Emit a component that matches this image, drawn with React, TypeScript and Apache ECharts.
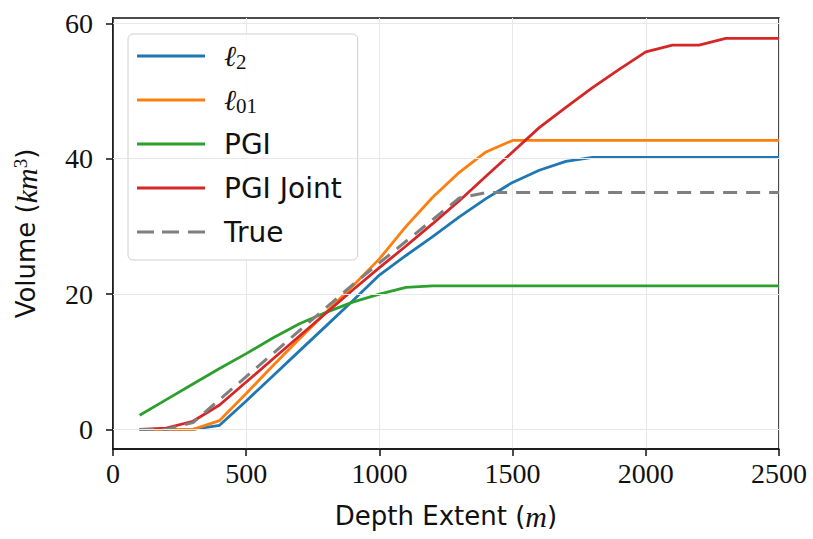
import React, { useEffect, useRef } from "react";
import * as echarts from "echarts";

// Depth extent of the model (m)
const depth = [
  100, 200, 300, 400, 500, 600, 700, 800, 900, 1000, 1100, 1200, 1300,
  1400, 1500, 1600, 1700, 1800, 1900, 2000, 2100, 2200, 2300, 2400, 2500,
];

// Recovered volumes (km^3)
const l2Volume = [
  0, 0, 0, 0.6, 4.2, 7.9, 11.6, 15.3, 19.0, 22.8, 25.7, 28.5, 31.4, 34.1,
  36.5, 38.3, 39.6, 40.2, 40.2, 40.2, 40.2, 40.2, 40.2, 40.2, 40.2,
];
const l01Volume = [
  0, 0, 0, 1.3, 5.3, 9.4, 13.4, 17.3, 21.2, 25.2, 30.0, 34.3, 38.0, 41.0,
  42.7, 42.7, 42.7, 42.7, 42.7, 42.7, 42.7, 42.7, 42.7, 42.7, 42.7,
];
const pgiVolume = [
  2.1, 4.4, 6.7, 9.0, 11.2, 13.5, 15.6, 17.3, 18.8, 20.0, 21.0, 21.2, 21.2,
  21.2, 21.2, 21.2, 21.2, 21.2, 21.2, 21.2, 21.2, 21.2, 21.2, 21.2, 21.2,
];
const pgiJointVolume = [
  0, 0.2, 1.2, 3.6, 7.0, 10.4, 13.8, 17.2, 20.6, 23.9, 27.1, 30.4, 33.8,
  37.4, 41.0, 44.6, 47.6, 50.5, 53.2, 55.8, 56.8, 56.8, 57.8, 57.8, 57.8,
];
const trueVolume = [
  0, 0, 1.0, 4.4, 7.8, 11.2, 14.6, 18.0, 21.4, 24.6, 27.8, 31.0, 34.2,
  35.0, 35.0, 35.0, 35.0, 35.0, 35.0, 35.0, 35.0, 35.0, 35.0, 35.0, 35.0,
];

const yTicks = [0, 20, 40, 60];
const seriesNames = ["ℓ2", "ℓ01", "PGI", "PGI Joint", "True"];

const pair = (ys: number[]) => depth.map((d, i) => [d, ys[i]]);

const SERIF = "'Liberation Serif', 'DejaVu Serif', serif";
const SANS = "'DejaVu Sans', 'Noto Sans', sans-serif";

// legend handles: a plain stroke, and a three-dash stroke
const SOLID_ICON = "path://M0,0H68V3H0Z";
const DASHED_ICON = "path://M0,0H17V3H0Z M25,0H42V3H25Z M51,0H68V3H51Z";

export default function App() {
  const ref = useRef<HTMLDivElement>(null);

  useEffect(() => {
    if (!ref.current) return;
    const chart = echarts.init(ref.current, undefined, { renderer: "svg" });

    const lineSeries = (name: string, ys: number[], color: string, dashed = false) => ({
      name,
      type: "line",
      data: pair(ys),
      showSymbol: false,
      symbol: "none",
      z: 3,
      lineStyle: {
        color,
        width: dashed ? 3 : 2.8,
        type: dashed ? [14, 9] : "solid",
      },
      itemStyle: { color },
    });

    chart.setOption({
      animation: false,
      backgroundColor: "#ffffff",
      grid: {
        left: 113,
        right: 34,
        top: 18,
        bottom: 90,
        show: true,
        borderColor: "#111",
        borderWidth: 1.5,
      },
      legend: {
        data: seriesNames.map((n) => ({
          name: n,
          icon: n === "True" ? DASHED_ICON : SOLID_ICON,
        })),
        orient: "vertical",
        left: 128,
        top: 34,
        padding: [6, 16, 12, 9],
        itemGap: 12,
        itemWidth: 68,
        itemHeight: 14,
        symbolKeepAspect: true,
        backgroundColor: "rgba(255,255,255,0.85)",
        borderColor: "#d0d0d0",
        borderWidth: 1,
        borderRadius: 5,
        formatter: (name: string) => {
          if (name === "ℓ2") return "{ell|ℓ}{sub|2}";
          if (name === "ℓ01") return "{ell|ℓ}{sub|01}";
          return name;
        },
        textStyle: {
          fontFamily: SANS,
          fontSize: 28,
          color: "#111",
          lineHeight: 32,
          padding: [0, 0, 0, 14],
          rich: {
            ell: {
              fontFamily: "'DejaVu Serif', serif",
              fontStyle: "italic",
              fontSize: 29,
              lineHeight: 32,
              color: "#111",
              verticalAlign: "middle",
            },
            sub: {
              fontFamily: SERIF,
              fontSize: 21,
              lineHeight: 20,
              color: "#111",
              verticalAlign: "bottom",
            },
          },
        },
      },
      xAxis: {
        type: "value",
        min: 0,
        max: 2500,
        interval: 500,
        name: "Depth Extent ({m|m})",
        nameLocation: "middle",
        nameGap: 52,
        nameTextStyle: {
          fontFamily: SANS,
          fontSize: 26,
          color: "#111",
          rich: {
            m: {
              fontFamily: SERIF,
              fontStyle: "italic",
              fontSize: 30,
              color: "#111",
            },
          },
        },
        axisLine: { show: true, onZero: false, lineStyle: { color: "#111", width: 1.5 } },
        axisTick: { show: true, length: 7, lineStyle: { color: "#111", width: 1.5 } },
        axisLabel: {
          fontFamily: SERIF,
          fontSize: 28,
          color: "#111",
          margin: 10,
          formatter: (v: number) => String(v),
        },
        splitLine: { show: true, lineStyle: { color: "#e8e8e8", width: 1 } },
      },
      yAxis: {
        type: "value",
        min: -2.9,
        max: 60.8,
        name: "Volume ({m|km}{sup|3})",
        nameLocation: "middle",
        nameGap: 72,
        nameTextStyle: {
          fontFamily: SANS,
          fontSize: 26,
          color: "#111",
          rich: {
            m: {
              fontFamily: SERIF,
              fontStyle: "italic",
              fontSize: 30,
              color: "#111",
            },
            sup: {
              fontFamily: SERIF,
              fontSize: 19,
              color: "#111",
              verticalAlign: "top",
              lineHeight: 19,
            },
          },
        },
        axisLine: { show: true, onZero: false, lineStyle: { color: "#111", width: 1.5 } },
        axisTick: {
          show: true,
          length: 7,
          customValues: yTicks,
          lineStyle: { color: "#111", width: 1.5 },
        },
        axisLabel: {
          fontFamily: SERIF,
          fontSize: 28,
          color: "#111",
          margin: 20,
          customValues: yTicks,
        },
        splitLine: { show: false },
      },
      series: [
        // horizontal grid lines at the labelled volume ticks
        {
          name: "grid",
          type: "line",
          data: [],
          silent: true,
          z: 1,
          markLine: {
            silent: true,
            symbol: ["none", "none"],
            label: { show: false },
            lineStyle: { color: "#e8e8e8", width: 1, type: "solid" },
            data: yTicks.map((v) => ({ yAxis: v })),
          },
        },
        lineSeries("ℓ2", l2Volume, "#1f77b4"),
        lineSeries("ℓ01", l01Volume, "#ff7f0e"),
        lineSeries("PGI", pgiVolume, "#2ca02c"),
        lineSeries("PGI Joint", pgiJointVolume, "#d62728"),
        lineSeries("True", trueVolume, "#7f7f7f", true),
      ],
    });

    return () => chart.dispose();
  }, []);

  return (
    <div
      ref={ref}
      style={{ position: "fixed", left: 0, top: 0, width: 813, height: 539 }}
    />
  );
}
